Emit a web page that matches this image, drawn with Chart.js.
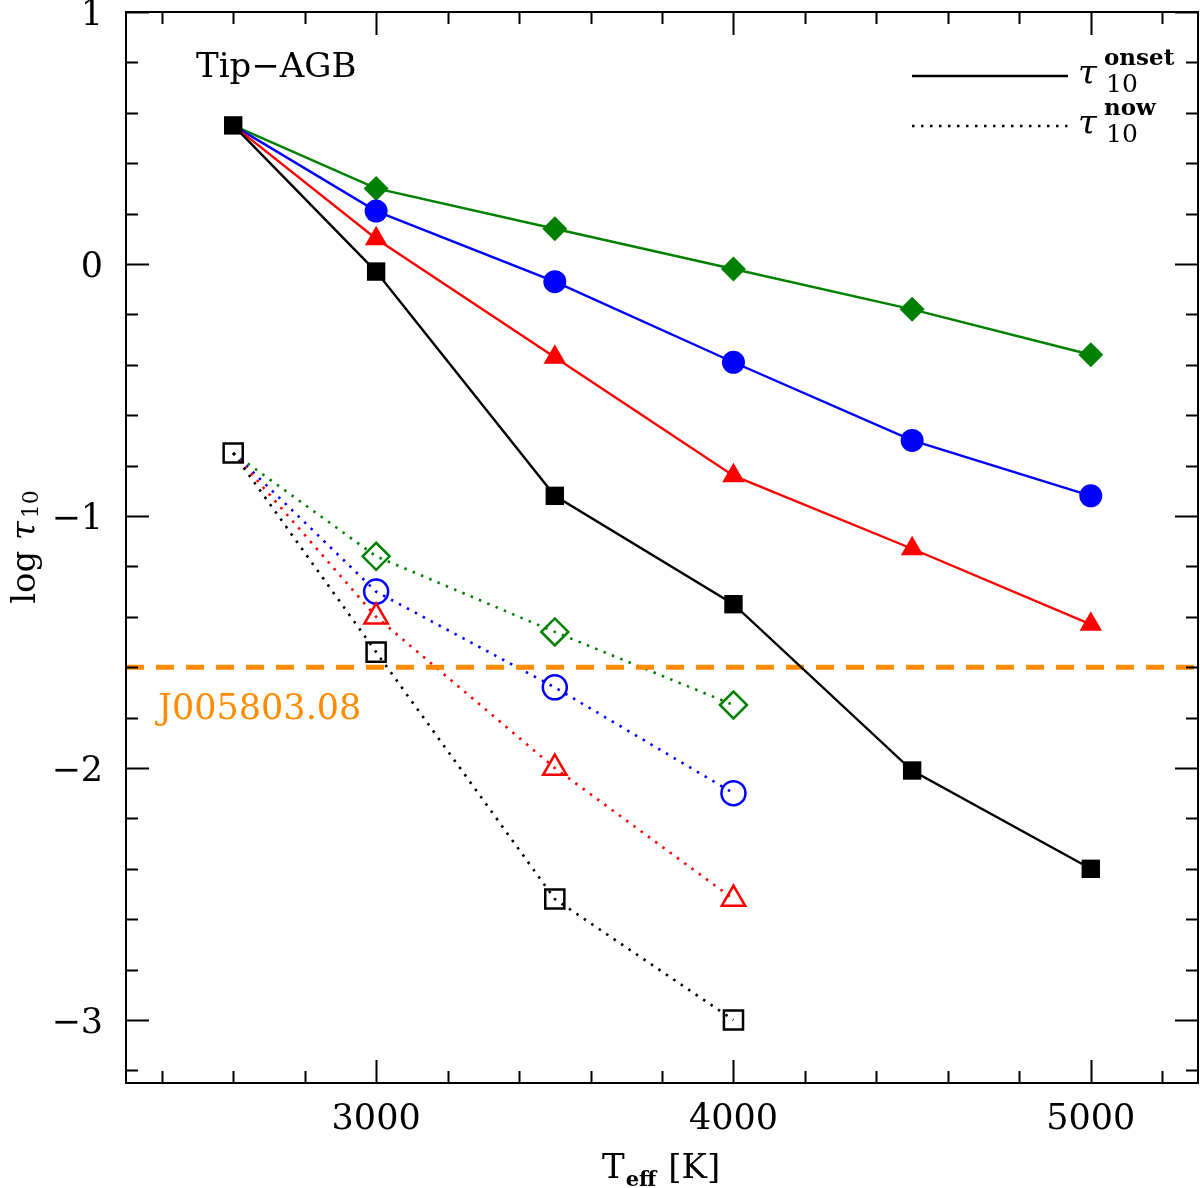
<!DOCTYPE html>
<html>
<head>
<meta charset="utf-8">
<script src="https://cdn.jsdelivr.net/npm/chart.js@4.4.1/dist/chart.umd.min.js"></script>
<style>
html,body{margin:0;padding:0;background:#fff;}
#wrap{width:1200px;height:1188px;}
</style>
</head>
<body>
<div id="wrap"><canvas id="c" width="1200" height="1188"></canvas></div>
<script>
// ---- data ----
const tempOnset = [2600, 3000, 3500, 4000, 4500, 5000];
const onsetBlack = [0.55, -0.03, -0.92, -1.35, -2.01, -2.40];
const onsetRed   = [0.55, 0.10, -0.37, -0.84, -1.13, -1.43];
const onsetBlue  = [0.55, 0.21, -0.07, -0.39, -0.70, -0.92];
const onsetGreen = [0.55, 0.30, 0.14, -0.02, -0.18, -0.36];

const tempNow = [2600, 3000, 3500, 4000];
const nowBlack = [-0.75, -1.54, -2.52, -3.00];
const nowRed   = [-0.75, -1.40, -2.00, -2.52];
const nowBlue  = [-0.75, -1.30, -1.68, -2.10];
const nowGreen = [-0.75, -1.16, -1.46, -1.75];

const targetName = 'J005803.08';
const targetLogTau = -1.6;
const targetRange = [2300, 5300];

const xMajorTicks = [3000, 4000, 5000];
const yMajorTicks = [-3, -2, -1, 0, 1];
const xLimits = [2300, 5300];
const yLimits = [-3.25, 1];
const panelLabel = 'Tip\u2212AGB';

// ---- helpers ----
const FONT = '"DejaVu Serif", serif';
function pts(xs, ys) { return xs.map((x, i) => ({x: x, y: ys[i]})); }
function radii(n, r, skipFirst) { return Array.from({length: n}, (_, i) => (skipFirst && i === 0) ? 0 : r); }
const DOT = [2.5, 6.5];

function onsetSet(ys, color, style, r, skipFirst, order) {
  return {
    data: pts(tempOnset, ys), showLine: true, borderColor: color, borderWidth: 2.4,
    pointStyle: style, pointRadius: radii(ys.length, r, skipFirst),
    pointBackgroundColor: color, pointBorderColor: color, pointBorderWidth: 0,
    pointHoverRadius: 0, order: order
  };
}
function nowSet(ys, color, style, r, skipFirst, order) {
  return {
    data: pts(tempNow, ys), showLine: true, borderColor: color, borderWidth: 2.6,
    borderDash: DOT, borderCapStyle: 'butt',
    pointStyle: style, pointRadius: radii(ys.length, r, skipFirst),
    pointBackgroundColor: 'rgba(0,0,0,0)', pointBorderColor: color, pointBorderWidth: 2.5,
    pointHoverRadius: 0, order: order
  };
}
const GREEN = '#008000', BLUE = '#0000ff', RED = '#ff0000', BLACK = '#000000', ORANGE = '#ff8c00';

const datasets = [
  onsetSet(onsetBlack, BLACK, 'rect', 13, false, 0),
  onsetSet(onsetRed, RED, 'triangle', 13, true, 1),
  onsetSet(onsetBlue, BLUE, 'circle', 11.5, true, 2),
  onsetSet(onsetGreen, GREEN, 'rectRot', 12.5, true, 3),
  {
    data: pts(targetRange, [targetLogTau, targetLogTau]), showLine: true,
    borderColor: ORANGE, borderWidth: 5, borderDash: [18, 12], borderCapStyle: 'butt',
    pointRadius: 0, pointHoverRadius: 0, order: 4
  },
  nowSet(nowBlack, BLACK, 'rect', 13.5, false, 5),
  nowSet(nowRed, RED, 'triangle', 13.5, true, 6),
  nowSet(nowBlue, BLUE, 'circle', 12, true, 7),
  nowSet(nowGreen, GREEN, 'rectRot', 13.5, true, 8)
];

function fmt(v) { return v < 0 ? '\u2212' + Math.abs(v) : String(v); }

const decor = {
  id: 'decor',
  afterDraw(chart) {
    const ctx = chart.ctx, a = chart.chartArea;
    const xs = chart.scales.x, ys = chart.scales.y;
    ctx.save();
    ctx.strokeStyle = '#000'; ctx.lineWidth = 2; ctx.setLineDash([]);
    ctx.strokeRect(a.left, a.top, a.right - a.left, a.bottom - a.top);
    const MAJ = 23, MIN = 12;
    ctx.beginPath();
    // x ticks every 200, major every 1000
    for (let v = 2400; v <= 5200; v += 200) {
      const px = Math.round(xs.getPixelForValue(v)) + 0.5;
      const L = (v % 1000 === 0) ? MAJ : MIN;
      ctx.moveTo(px, a.bottom); ctx.lineTo(px, a.bottom - L);
      ctx.moveTo(px, a.top); ctx.lineTo(px, a.top + L);
    }
    // y ticks every 0.2, major every 1
    for (let k = -16; k <= 5; k++) {
      const v = k / 5;
      if (v < yLimits[0] || v > yLimits[1]) continue;
      const py = Math.round(ys.getPixelForValue(v)) + 0.5;
      const L = (k % 5 === 0) ? MAJ : MIN;
      ctx.moveTo(a.left, py); ctx.lineTo(a.left + L, py);
      ctx.moveTo(a.right, py); ctx.lineTo(a.right - L, py);
    }
    ctx.stroke();

    // tick labels
    ctx.fillStyle = '#000';
    ctx.font = '35px ' + FONT;
    ctx.textBaseline = 'alphabetic';
    ctx.textAlign = 'center';
    xMajorTicks.forEach(v => ctx.fillText(String(v), xs.getPixelForValue(v), 1129));
    ctx.textAlign = 'right';
    yMajorTicks.forEach(v => ctx.fillText(fmt(v), 103, ys.getPixelForValue(v) + 13));

    // x title: T_eff [K]
    ctx.textAlign = 'left';
    let x = 602;
    ctx.font = '34px ' + FONT;
    ctx.fillText('T', x, 1178); x += ctx.measureText('T').width + 1;
    ctx.font = 'bold 21px ' + FONT;
    ctx.fillText('eff', x, 1186); x += ctx.measureText('eff').width + 12;
    ctx.font = '34px ' + FONT;
    ctx.fillText('[K]', x, 1178);

    // y title: log tau_10 (rotated)
    ctx.save();
    ctx.translate(35, 547);
    ctx.rotate(-Math.PI / 2);
    ctx.font = '34px ' + FONT;
    const w1 = ctx.measureText('log ').width;
    ctx.font = 'italic 34px ' + FONT;
    const w2 = ctx.measureText('\u03c4').width;
    ctx.font = '22px ' + FONT;
    const w3 = ctx.measureText('10').width;
    let sx = -(w1 + w2 + 3 + w3) / 2;
    ctx.font = '34px ' + FONT; ctx.fillText('log ', sx, 0); sx += w1;
    ctx.font = 'italic 34px ' + FONT; ctx.fillText('\u03c4', sx, 0); sx += w2 + 3;
    ctx.font = '22px ' + FONT; ctx.fillText('10', sx, 3);
    ctx.restore();

    // panel label
    ctx.font = '34px ' + FONT;
    ctx.fillText(panelLabel, 196, 77);

    // target label
    ctx.fillStyle = ORANGE;
    ctx.font = '35px ' + FONT;
    ctx.fillText(targetName, 158, 719);

    // legend
    ctx.fillStyle = '#000';
    ctx.strokeStyle = '#000';
    ctx.lineWidth = 2.4; ctx.setLineDash([]);
    ctx.beginPath(); ctx.moveTo(912, 76); ctx.lineTo(1068, 76); ctx.stroke();
    ctx.lineWidth = 2.6; ctx.setLineDash(DOT);
    ctx.beginPath(); ctx.moveTo(912, 126); ctx.lineTo(1068, 126); ctx.stroke();
    ctx.setLineDash([]);
    const legendEntries = [['onset', 84], ['now', 134]];
    legendEntries.forEach(([sup, base]) => {
      ctx.font = 'italic 34px ' + FONT;
      ctx.fillText('\u03c4', 1078, base);
      ctx.font = 'bold 23px ' + FONT;
      ctx.fillText(sup, 1104, base - 19);
      ctx.font = '25px ' + FONT;
      ctx.fillText('10', 1106, base + 8);
    });
    ctx.restore();
  }
};

new Chart(document.getElementById('c'), {
  type: 'scatter',
  data: { datasets: datasets },
  options: {
    responsive: false,
    devicePixelRatio: 1,
    animation: false,
    events: [],
    layout: { autoPadding: false, padding: { top: 12, right: 2, left: 0, bottom: 0 } },
    plugins: { legend: { display: false }, tooltip: { enabled: false } },
    scales: {
      x: {
        type: 'linear', min: xLimits[0], max: xLimits[1],
        grid: { display: false }, border: { display: false },
        ticks: { display: false },
        afterFit(s) { s.height = 105; }
      },
      y: {
        type: 'linear', min: yLimits[0], max: yLimits[1],
        grid: { display: false }, border: { display: false },
        ticks: { display: false },
        afterFit(s) { s.width = 126; }
      }
    }
  },
  plugins: [decor]
});
</script>
</body>
</html>
